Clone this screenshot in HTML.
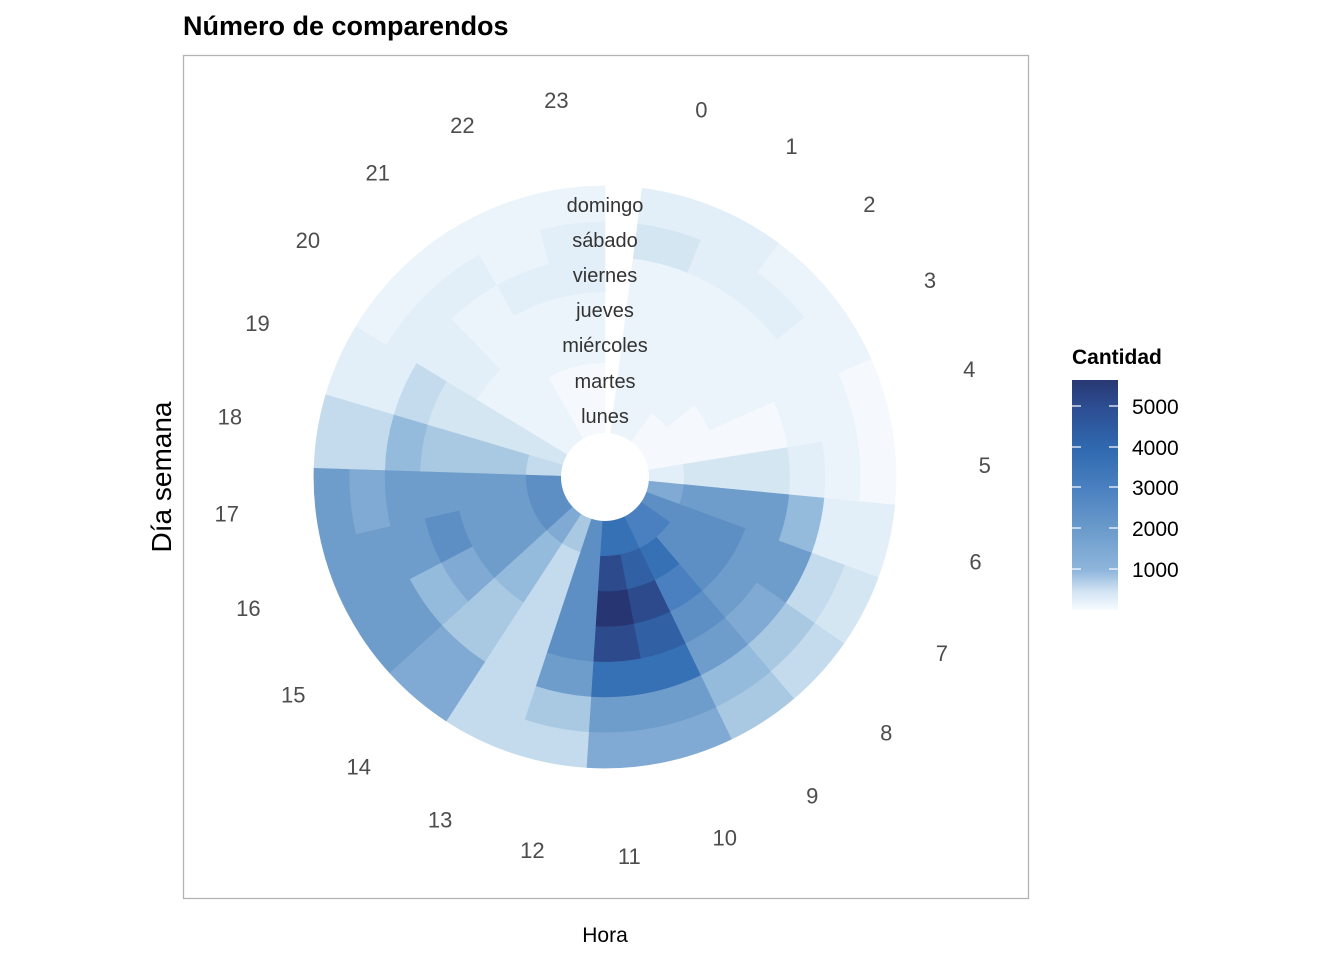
<!DOCTYPE html>
<html><head><meta charset="utf-8">
<style>
body{margin:0;background:#fff;}
svg{display:block;font-family:"Liberation Sans",Arial,sans-serif;}
</style></head>
<body>
<svg id="s" width="1344" height="960" viewBox="0 0 1344 960" xmlns="http://www.w3.org/2000/svg">
<defs>
<linearGradient id="lg" x1="0" y1="1" x2="0" y2="0">
<stop offset="0" stop-color="#f7fbff"/>
<stop offset="0.08" stop-color="#d3e4f3"/>
<stop offset="0.17" stop-color="#8fb6dc"/>
<stop offset="0.35" stop-color="#6b9bcb"/>
<stop offset="0.53" stop-color="#4a80c0"/>
<stop offset="0.70" stop-color="#3069b0"/>
<stop offset="0.88" stop-color="#2d4e92"/>
<stop offset="1" stop-color="#283873"/>
</linearGradient>
</defs>
<rect x="0" y="0" width="1344" height="960" fill="#fff"/>
<text x="183" y="35" font-size="27" font-weight="bold" fill="#000">Número de comparendos</text>
<rect x="183.5" y="55.5" width="845" height="843" fill="none" stroke="#b3b3b3" stroke-width="1.3"/>
<g id="tiles"></g>
<circle cx="605" cy="477" r="44" fill="#fff"/>
<g id="hl" font-size="22" fill="#4d4d4d" text-anchor="middle"></g>
<g font-size="20" fill="#333" text-anchor="middle">
<text x="605" y="212">domingo</text>
<text x="605" y="247">sábado</text>
<text x="605" y="282">viernes</text>
<text x="605" y="317">jueves</text>
<text x="605" y="352">miércoles</text>
<text x="605" y="388">martes</text>
<text x="605" y="423">lunes</text>
</g>
<text transform="translate(171,477) rotate(-90)" font-size="28" text-anchor="middle" fill="#000">Día semana</text>
<text x="605" y="942" font-size="21" text-anchor="middle" fill="#000">Hora</text>
<text x="1072" y="364" font-size="21" font-weight="bold" fill="#000">Cantidad</text>
<rect x="1072" y="380" width="46" height="230" fill="url(#lg)"/>
<g stroke="#fff" stroke-width="1.2">
<line x1="1072" y1="406" x2="1081" y2="406"/><line x1="1109" y1="406" x2="1118" y2="406"/>
<line x1="1072" y1="447" x2="1081" y2="447"/><line x1="1109" y1="447" x2="1118" y2="447"/>
<line x1="1072" y1="487" x2="1081" y2="487"/><line x1="1109" y1="487" x2="1118" y2="487"/>
<line x1="1072" y1="528" x2="1081" y2="528"/><line x1="1109" y1="528" x2="1118" y2="528"/>
<line x1="1072" y1="569" x2="1081" y2="569"/><line x1="1109" y1="569" x2="1118" y2="569"/>
</g>
<g font-size="21" fill="#000">
<text x="1132" y="414">5000</text>
<text x="1132" y="455">4000</text>
<text x="1132" y="495">3000</text>
<text x="1132" y="536">2000</text>
<text x="1132" y="577">1000</text>
</g>
</svg>
<script>
(function(){
var P=["#f5f9fd","#ecf4fb","#e2eff8","#d5e6f3","#c4dbed","#a9c9e3","#94bbdc","#80aad3","#6f9dcb","#5d8fc5","#4a80c0","#3670b5","#3160a5","#2d4a8c","#273672"];
var D=[
[1,1,1,1,1,3,2],[1,1,1,1,1,2,2],[0,1,1,1,1,2,1],[0,0,1,1,1,1,1],[0,0,0,0,1,1,0],
[2,3,3,3,2,1,0],[7,8,8,8,6,2,2],[9,9,9,8,8,4,3],[10,9,9,8,7,5,4],[10,11,10,9,8,6,5],
[11,12,13,12,11,8,7],[11,13,14,13,11,8,7],[9,9,9,9,8,5,4],[5,4,4,4,4,4,4],
[7,6,6,5,5,7,7],[9,8,8,7,6,8,8],[9,8,8,9,8,8,8],[9,8,8,8,8,7,8],[4,5,5,5,6,4,4],
[3,3,3,3,4,2,2],[1,1,1,2,2,2,1],[1,1,1,1,1,2,1],[0,0,1,1,2,1,1],[0,0,1,1,2,2,1]];
var cx=605,cy=477,r0=44,dr=35.3,s=360/24.5,ns="http://www.w3.org/2000/svg";
function pt(r,a){a=a*Math.PI/180;return (cx+r*Math.sin(a)).toFixed(2)+","+(cy-r*Math.cos(a)).toFixed(2);}
var g=document.getElementById("tiles");
for(var h=0;h<24;h++){var a1=s*(h+0.5),a2=s*(h+1.5);
for(var d=0;d<7;d++){var ri=(r0+dr*d).toFixed(2),ro=(r0+dr*(d+1)).toFixed(2);
var p="M"+pt(ri,a1)+" L"+pt(ro,a1)+" A"+ro+","+ro+" 0 0 1 "+pt(ro,a2)+" L"+pt(ri,a2)+" A"+ri+","+ri+" 0 0 0 "+pt(ri,a1)+" Z";
var e=document.createElementNS(ns,"path");e.setAttribute("d",p);e.setAttribute("fill",P[D[h][d]]);e.setAttribute("stroke",P[D[h][d]]);e.setAttribute("stroke-width","0.6");g.appendChild(e);}}
var hl=document.getElementById("hl");
for(var h=0;h<24;h++){var a=s*(h+1)*Math.PI/180;var t=document.createElementNS(ns,"text");
t.setAttribute("x",(cx+380*Math.sin(a)).toFixed(1));t.setAttribute("y",(cy-380*Math.cos(a)+8).toFixed(1));t.textContent=h;hl.appendChild(t);}
})();
</script>
</body></html>
